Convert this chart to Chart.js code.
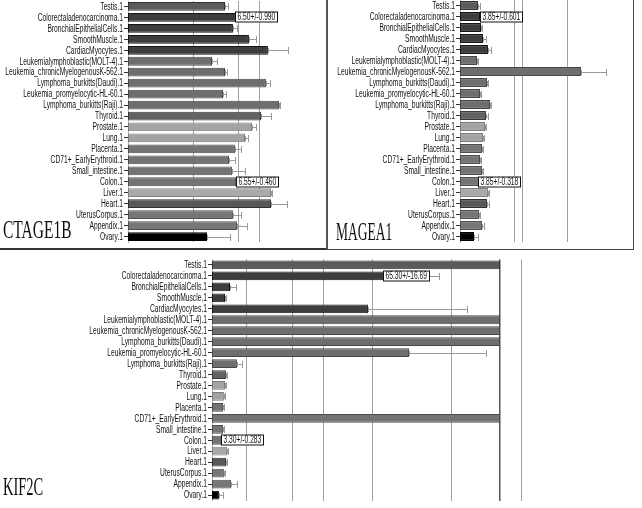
<!DOCTYPE html>
<html>
<head>
<meta charset="utf-8">
<script src="https://cdn.jsdelivr.net/npm/chart.js@4.4.0/dist/chart.umd.min.js"></script>
<style>
    html, body { margin: 0; padding: 0; background: #fff; }
    body { width: 642px; height: 508px; position: relative; overflow: hidden; }
    .panel { position: absolute; box-sizing: border-box; }
    .panel canvas { position: absolute; left: 0; top: 0; }
    .title {
        position: absolute; font-family: 'Liberation Serif', 'Times New Roman', serif;
        font-size: 25px; color: #111; transform-origin: left top;
        white-space: nowrap; line-height: 1;
    }
</style>
</head>
<body>
<div class="panel" id="panelA" style="left:0;top:0;width:327px;height:250px;border-right:1px solid #555;border-bottom:2px solid #333;">
    <canvas id="chartA" width="326" height="248"></canvas>
</div>
<div class="panel" id="panelB" style="left:327px;top:0;width:307px;height:250px;border-left:1px solid #555;border-right:1px solid #444;border-bottom:1px solid #444;">
    <canvas id="chartB" width="305" height="249"></canvas>
</div>
<div class="panel" id="panelC" style="left:0;top:252px;width:642px;height:256px;">
    <canvas id="chartC" width="642" height="256"></canvas>
</div>
<div class="title" style="left:3px;top:217px;transform:scaleX(0.62);">CTAGE1B</div>
<div class="title" style="left:336px;top:219px;transform:scaleX(0.54);">MAGEA1</div>
<div class="title" style="left:3px;top:474px;transform:scaleX(0.58);">KIF2C</div>

<script>
// ── Data ─────────────────────────────────────────────────────────────────────
const tissues = [
    'Testis.1', 'Colorectaladenocarcinoma.1', 'BronchialEpithelialCells.1', 'SmoothMuscle.1',
    'CardiacMyocytes.1', 'Leukemialymphoblastic(MOLT-4).1', 'Leukemia_chronicMyelogenousK-562.1',
    'Lymphoma_burkitts(Daudi).1', 'Leukemia_promyelocytic-HL-60.1', 'Lymphoma_burkitts(Raji).1',
    'Thyroid.1', 'Prostate.1', 'Lung.1', 'Placenta.1', 'CD71+_EarlyErythroid.1', 'Small_intestine.1',
    'Colon.1', 'Liver.1', 'Heart.1', 'UterusCorpus.1', 'Appendix.1', 'Ovary.1'
];

const barColors = [
    '#5b5b5b', '#3d3d3d', '#3d3d3d', '#3d3d3d', '#3d3d3d',
    '#6e6e6e', '#6e6e6e', '#6e6e6e', '#6e6e6e', '#6e6e6e',
    '#626262', '#a3a3a3', '#a3a3a3', '#747474', '#747474', '#747474',
    '#747474', '#a9a9a9', '#585858', '#777777', '#777777', '#000000'
];

// CTAGE1B
const ctage1bValues = [5.88, 6.50, 6.36, 7.33, 8.48, 5.09, 5.88, 8.36, 5.76, 9.15, 8.06,
    7.52, 7.09, 6.48, 6.12, 6.30, 6.55, 8.67, 8.67, 6.36, 6.61, 4.79];
const ctage1bErrors = [0.18, 0.99, 0.24, 0.42, 1.21, 0.30, 0.12, 0.24, 0.18, 0.06, 0.61,
    0.24, 0.18, 0.36, 0.36, 0.79, 0.46, 0.06, 0.97, 0.48, 0.61, 1.39];
const ctage1bGrid = [4.0, 6.67, 8.0];
const ctage1bMax = 11.94;

// MAGEA1
const magea1Values = [3.46, 3.85, 4.04, 4.42, 5.38, 3.27, 23.3, 5.19, 3.85, 5.77, 5.0,
    4.81, 4.42, 4.23, 3.85, 4.23, 3.85, 5.38, 5.19, 3.65, 4.23, 2.69];
const magea1Errors = [0.38, 0.60, 0.2, 0.58, 0.58, 0.19, 4.8, 0.19, 0.2, 0.2, 0.38,
    0.2, 0.2, 0.2, 0.2, 0.2, 0.318, 0.2, 0.38, 0.2, 0.38, 0.77];
const magea1Grid = [10.4, 12.1, 20.6];
const magea1Max = 33.3;

// KIF2C (bars at 104 run off the visible scale)
const kif2cValues = [104, 65.3, 6.5, 4.7, 56.3, 104, 104, 104, 71.1, 9.0, 5.1,
    4.7, 4.3, 4.0, 104, 4.0, 3.30, 5.4, 5.1, 4.3, 6.9, 2.5];
const kif2cErrors = [0, 16.69, 2.2, 0.3, 35.7, 0, 0, 0, 27.8, 1.8, 0.3,
    0.3, 0.3, 0.3, 0, 0.3, 0.283, 0.3, 0.3, 0.3, 2.2, 1.4];
const kif2cGrid = [12.3, 28.9, 40.1, 57.8, 86.3, 104, 111.9];
const kif2cMax = 154.5;

// value boxes: index -> [text, nudge px]
const ctage1bBoxes = { 1: ['6.50+/-0.990', 0], 16: ['6.55+/-0.460', 0] };
const magea1Boxes = { 1: ['3.85+/-0.601', 0], 16: ['3.85+/-0.318', -2] };
const kif2cBoxes = { 1: ['65.30+/-16.69', -10], 16: ['3.30+/-0.283', 0] };

const LABEL_FONT = "10px 'Liberation Sans', Arial, sans-serif";
const SQUEEZE = 0.67; // labels in the source are very condensed

// darker edge for each bar
function darken(hex) {
    const n = parseInt(hex.slice(1), 16);
    const r = Math.max(0, ((n >> 16) & 255) - 40);
    const g = Math.max(0, ((n >> 8) & 255) - 40);
    const b = Math.max(0, (n & 255) - 40);
    return `rgb(${r},${g},${b})`;
}

// ── Condensed category labels ────────────────────────────────────────────────
const narrowLabels = {
    id: 'narrowLabels',
    afterDraw(chart) {
        const ctx = chart.ctx;
        const ys = chart.scales.y;
        const xRight = chart.chartArea.left - 5;
        ctx.save();
        ctx.font = LABEL_FONT;
        ctx.fillStyle = '#111';
        ctx.textAlign = 'right';
        ctx.textBaseline = 'middle';
        chart.data.labels.forEach((lab, i) => {
            const y = ys.getPixelForTick(i);
            ctx.save();
            ctx.translate(xRight, y + 0.5);
            ctx.scale(SQUEEZE, 1);
            ctx.fillText(lab, 0, 0);
            ctx.restore();
        });
        ctx.restore();
    }
};

// ── Error bars + value boxes ─────────────────────────────────────────────────
const errBarsPlugin = {
    id: 'errBars',
    afterDatasetsDraw(chart, args, opts) {
        const ctx = chart.ctx;
        const xs = chart.scales.x;
        const meta = chart.getDatasetMeta(0);
        const vals = chart.data.datasets[0].data;
        const area = chart.chartArea;
        ctx.save();
        ctx.beginPath();
        ctx.rect(area.left, area.top - 5, area.right - area.left, area.bottom - area.top + 10);
        ctx.clip();
        meta.data.forEach((bar, i) => {
            const err = opts.errors[i];
            if (!err) return;
            const x0 = xs.getPixelForValue(vals[i]);
            const x1 = xs.getPixelForValue(vals[i] + err);
            const y = Math.round(bar.y) + 0.5;
            ctx.strokeStyle = '#9a9a9a';
            ctx.lineWidth = 1;
            ctx.beginPath();
            ctx.moveTo(x0, y); ctx.lineTo(x1, y);
            ctx.moveTo(Math.round(x1) + 0.5, y - 3.5); ctx.lineTo(Math.round(x1) + 0.5, y + 3.5);
            ctx.moveTo(Math.round(x0) + 0.5, y - 2.5); ctx.lineTo(Math.round(x0) + 0.5, y + 2.5);
            ctx.stroke();
        });
        ctx.restore();

        // value label boxes
        ctx.save();
        ctx.font = LABEL_FONT;
        ctx.textBaseline = 'middle';
        Object.keys(opts.boxes).forEach(k => {
            const i = +k;
            const bar = meta.data[i];
            const [text, dx] = opts.boxes[k];
            const x = Math.round(xs.getPixelForValue(vals[i]) + dx) + 0.5;
            const y = Math.round(bar.y);
            const w = Math.ceil(ctx.measureText(text).width * SQUEEZE) + 4;
            ctx.fillStyle = '#fff';
            ctx.fillRect(x, y - 5.5, w, 11);
            ctx.strokeStyle = '#111';
            ctx.lineWidth = 1;
            ctx.strokeRect(x, y - 5, w, 10);
            ctx.fillStyle = '#111';
            ctx.save();
            ctx.translate(x + 2, y + 0.5);
            ctx.scale(SQUEEZE, 1);
            ctx.fillText(text, 0, 0);
            ctx.restore();
        });
        ctx.restore();
    }
};

// ── Chart builder ────────────────────────────────────────────────────────────
function makeChart(id, values, errors, grid, max, boxes, axisWidth, pad, darkLine) {
    return new Chart(document.getElementById(id), {
        type: 'bar',
        data: {
            labels: tissues,
            datasets: [{
                data: values,
                backgroundColor: barColors,
                borderColor: barColors.map(darken),
                borderWidth: 1,
                borderSkipped: false,
                barPercentage: 0.8,
                categoryPercentage: 1.0
            }]
        },
        options: {
            indexAxis: 'y',
            responsive: false,
            animation: false,
            layout: { padding: pad },
            plugins: {
                legend: { display: false },
                tooltip: { enabled: false },
                errBars: { errors: errors, boxes: boxes }
            },
            scales: {
                x: {
                    min: 0,
                    max: max,
                    afterBuildTicks: (scale) => { scale.ticks = grid.map(v => ({ value: v })); },
                    afterFit: (scale) => { scale.height = 0; },
                    ticks: { display: false },
                    border: { display: false },
                    grid: {
                        drawTicks: false,
                        color: (c) => (darkLine && c.tick && c.tick.value === darkLine) ? '#555' : '#a0a0a0',
                        lineWidth: (c) => (darkLine && c.tick && c.tick.value === darkLine) ? 1.5 : 1
                    }
                },
                y: {
                    afterFit: (scale) => { scale.width = axisWidth; },
                    border: { display: true, color: '#b0b0b0' },
                    grid: {
                        display: true, drawOnChartArea: false, offset: false,
                        tickLength: 4, color: '#333'
                    },
                    ticks: { display: false, autoSkip: false }
                }
            }
        },
        plugins: [errBarsPlugin, narrowLabels]
    });
}

// ── Render ───────────────────────────────────────────────────────────────────
makeChart('chartA', ctage1bValues, ctage1bErrors, ctage1bGrid, ctage1bMax, ctage1bBoxes,
    128, { top: 1, bottom: 6, left: 0, right: 1 }, null);
makeChart('chartB', magea1Values, magea1Errors, magea1Grid, magea1Max, magea1Boxes,
    132, { top: 0, bottom: 7, left: 0, right: 0 }, null);
makeChart('chartC', kif2cValues, kif2cErrors, kif2cGrid, kif2cMax, kif2cBoxes,
    212, { top: 7.5, bottom: 7.5, left: 0, right: 2 }, 104);
</script>
</body>
</html>
